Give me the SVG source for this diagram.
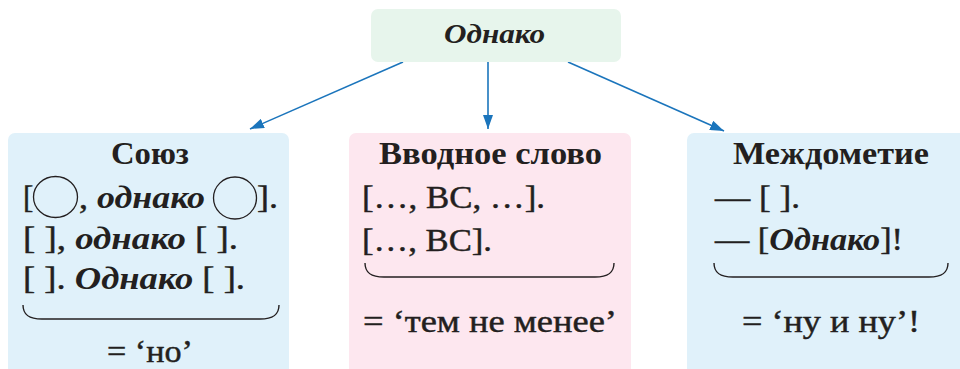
<svg xmlns="http://www.w3.org/2000/svg" width="960" height="369" viewBox="0 0 960 369">
<style>
text{font-family:"Liberation Serif","Times New Roman",serif;fill:#231f20;font-size:31px;stroke:#231f20;stroke-width:0.45}
.t{font-weight:bold;stroke-width:0}
.bi{font-weight:bold;font-style:italic;stroke-width:0}
.b{font-weight:bold;stroke-width:0}
.br{fill:none;stroke:#231f20;stroke-width:1.4}
.arr{stroke:#1b75bc;stroke-width:1.6;fill:none}
</style>
<defs>
<marker id="ah" viewBox="0 0 14 10" refX="14" refY="5" markerWidth="14" markerHeight="10" markerUnits="userSpaceOnUse" orient="auto">
<path d="M0,0 L14,5 L0,10 Z" fill="#1b75bc"/>
</marker>
</defs>
<g id="connectors">
<line class="arr" x1="403" y1="62" x2="250" y2="129" marker-end="url(#ah)"/>
<line class="arr" x1="488" y1="62" x2="488" y2="129" marker-end="url(#ah)"/>
<line class="arr" x1="568" y1="62" x2="724" y2="131" marker-end="url(#ah)"/>
</g>
<g id="top">
<rect x="371" y="9" width="250" height="53" rx="7" fill="#e7f5ec"/>
<text class="bi" x="444" y="43" style="font-size:27px" textLength="101" lengthAdjust="spacingAndGlyphs">Однако</text>
</g>
<g id="soyuz">
<rect x="8" y="133" width="281" height="250" rx="7" fill="#e0f1fa"/>
<text class="t" x="111" y="164" textLength="78" lengthAdjust="spacingAndGlyphs">Союз</text>
<text x="23" y="208">[</text>
<ellipse cx="55.5" cy="197" rx="22" ry="20.5" fill="none" stroke="#231f20" stroke-width="1.3"/>
<text x="79" y="208" textLength="126" lengthAdjust="spacingAndGlyphs">, <tspan class="bi">однако</tspan></text>
<ellipse cx="235" cy="198" rx="21.5" ry="21" fill="none" stroke="#231f20" stroke-width="1.3"/>
<text x="257" y="208" textLength="21" lengthAdjust="spacingAndGlyphs">].</text>
<text x="23" y="249" textLength="215" lengthAdjust="spacingAndGlyphs">[ ], <tspan class="bi">однако</tspan> [ ].</text>
<text x="23" y="289" textLength="222" lengthAdjust="spacingAndGlyphs">[ ]. <tspan class="bi">Однако</tspan> [ ].</text>
<path class="br" d="M23,305 C23,315 29,319 42,319 L260,319 C273,319 279,315 279,305"/>
<text x="107" y="362" textLength="86" lengthAdjust="spacingAndGlyphs">= ‘но’</text>
</g>
<g id="vvodnoe">
<rect x="349" y="133" width="282" height="250" rx="7" fill="#fde7ef"/>
<text class="t" x="379" y="164" textLength="223" lengthAdjust="spacingAndGlyphs">Вводное слово</text>
<text x="362" y="208" textLength="183" lengthAdjust="spacingAndGlyphs">[…, ВС, …].</text>
<text x="362" y="251" textLength="130" lengthAdjust="spacingAndGlyphs">[…, ВС].</text>
<path class="br" d="M365,263 C365,273 371,277 384,277 L595,277 C608,277 614,273 614,263"/>
<text x="363" y="332" textLength="254" lengthAdjust="spacingAndGlyphs">= ‘тем не менее’</text>
</g>
<g id="mezhdometie">
<rect x="687" y="133" width="282" height="250" rx="7" fill="#e0f1fa"/>
<text class="t" x="733" y="164" textLength="196" lengthAdjust="spacingAndGlyphs">Междометие</text>
<text x="715" y="208" textLength="85" lengthAdjust="spacingAndGlyphs">— [ ].</text>
<text x="715" y="250" textLength="188" lengthAdjust="spacingAndGlyphs">— [<tspan class="bi">Однако</tspan>]!</text>
<path class="br" d="M714,263 C714,273 720,277 733,277 L929,277 C942,277 948,273 948,263"/>
<text x="742" y="332" textLength="178" lengthAdjust="spacingAndGlyphs">= ‘ну и ну’!</text>
</g>
</svg>
